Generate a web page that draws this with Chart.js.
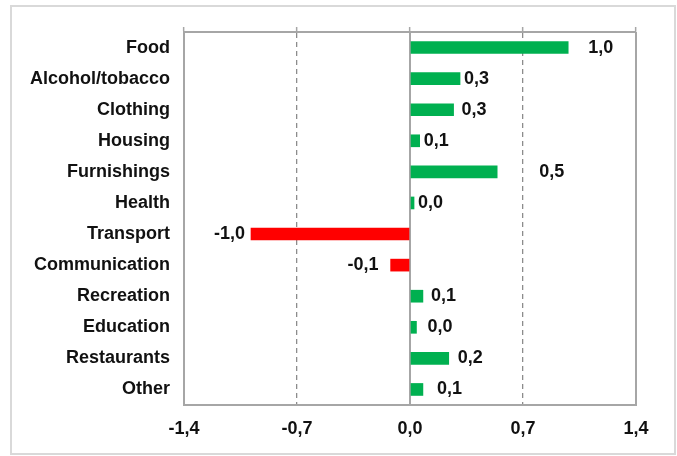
<!DOCTYPE html>
<html lang="en">
<head>
    <meta charset="UTF-8">
    <title>Contribution by category</title>
    <script src="https://cdn.jsdelivr.net/npm/chart.js"></script>
    <style>
        html, body { margin: 0; padding: 0; background: #fff; }
        .wrap { width: 677px; height: 456px; }
    </style>
</head>
<body>
<div class="wrap">
    <canvas id="grafico" width="677" height="456"></canvas>
</div>
<script>
    // valores
    const categorias = ['Food', 'Alcohol/tobacco', 'Clothing', 'Housing', 'Furnishings', 'Health',
        'Transport', 'Communication', 'Recreation', 'Education', 'Restaurants', 'Other'];
    const valores = [0.98, 0.31, 0.27, 0.06, 0.54, 0.025, -0.985, -0.12, 0.08, 0.04, 0.24, 0.08];
    const ticksX = [-1.4, -0.7, 0, 0.7, 1.4];

    const VERDE = '#00b050';
    const VERMELHO = '#ff0000';
    const CINZA = '#a6a6a6';
    const FONTE = "'Liberation Sans', Arial, sans-serif";

    function virgula(v) {
        return (Math.abs(v) < 1e-9 ? 0 : v).toFixed(1).replace('.', ',');
    }

    // moldura externa
    const moldura = {
        id: 'moldura',
        beforeDraw(chart) {
            const ctx = chart.ctx;
            ctx.save();
            ctx.strokeStyle = '#d9d9d9';
            ctx.lineWidth = 2;
            ctx.strokeRect(11, 6, 664, 448);
            ctx.restore();
        }
    };

    // rótulos de valor ao lado das barras
    const rotulos = {
        id: 'rotulos',
        afterDatasetsDraw(chart, args, opts) {
            const ctx = chart.ctx;
            const meta = chart.getDatasetMeta(0);
            ctx.save();
            ctx.font = 'bold 18px ' + FONTE;
            ctx.fillStyle = '#111';
            ctx.textBaseline = 'middle';
            meta.data.forEach((bar, i) => {
                const v = valores[i];
                const extra = (opts.nudge && opts.nudge[i]) || 0;
                if (v < 0) {
                    ctx.textAlign = 'right';
                    ctx.fillText(virgula(v), bar.x - 6 - extra, bar.y);
                } else {
                    ctx.textAlign = 'left';
                    ctx.fillText(virgula(v), bar.x + 4 + extra, bar.y);
                }
            });
            ctx.restore();
        }
    };

    const ehZero = v => Math.abs(v) < 1e-9;
    const ehBorda = v => Math.abs(Math.abs(v) - 1.4) < 1e-9;

    new Chart(document.getElementById('grafico'), {
        type: 'bar',
        data: {
            labels: categorias,
            datasets: [{
                data: valores,
                backgroundColor: valores.map(v => v < 0 ? VERMELHO : VERDE),
                borderWidth: 0,
                barThickness: 12
            }]
        },
        options: {
            indexAxis: 'y',
            responsive: false,
            animation: false,
            devicePixelRatio: 1,
            layout: { padding: { left: 0, right: 41, top: 27, bottom: 17 } },
            plugins: {
                legend: { display: false },
                tooltip: { enabled: false },
                rotulos: { nudge: { 0: 16, 4: 38, 2: 4, 8: 4, 9: 7, 10: 5, 11: 10, 7: 6 } }
            },
            scales: {
                x: {
                    type: 'linear',
                    position: 'bottom',
                    min: -1.4,
                    max: 1.4,
                    afterBuildTicks: s => { s.ticks = ticksX.map(v => ({ value: v })); },
                    afterFit: s => { s.height = 34; },
                    ticks: {
                        padding: 13,
                        color: '#111',
                        font: { family: FONTE, size: 18, weight: 'bold' },
                        callback: v => virgula(v)
                    },
                    grid: {
                        drawTicks: false,
                        lineWidth: 2,
                        color: c => (ehZero(c.tick.value) || ehBorda(c.tick.value)) ? CINZA : 'rgba(0,0,0,0)'
                    },
                    border: { display: true, color: CINZA, width: 2 }
                },
                x2: {
                    type: 'linear',
                    position: 'top',
                    min: -1.4,
                    max: 1.4,
                    afterBuildTicks: s => { s.ticks = ticksX.map(v => ({ value: v })); },
                    afterFit: s => { s.height = 5; },
                    ticks: { display: false },
                    grid: {
                        drawTicks: true,
                        tickLength: 5,
                        tickColor: CINZA,
                        tickWidth: 1.5,
                        lineWidth: 1.3,
                        color: c => (!ehZero(c.tick.value) && !ehBorda(c.tick.value)) ? '#8c8c8c' : 'rgba(0,0,0,0)'
                    },
                    border: { display: true, color: CINZA, width: 2, dash: [5, 4] }
                },
                y: {
                    type: 'category',
                    position: 'left',
                    afterFit: s => { s.width = 184; },
                    ticks: {
                        padding: 14,
                        color: '#111',
                        font: { family: FONTE, size: 18, weight: 'bold' }
                    },
                    grid: { display: false, drawTicks: false },
                    border: { display: true, color: CINZA, width: 2 }
                }
            }
        },
        plugins: [moldura, rotulos]
    });
</script>
</body>
</html>
